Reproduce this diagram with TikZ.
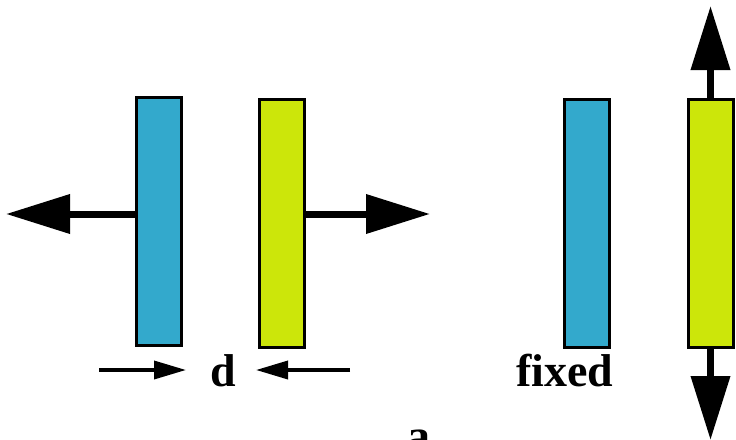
\documentclass[tikz,border=0pt]{standalone}
\usepackage{fontspec}
\setmainfont{Liberation Serif}
\usetikzlibrary{arrows.meta}

\definecolor{plateblue}{RGB}{51,169,204}
\definecolor{plategreen}{RGB}{204,230,10}

\tikzset{
  plate/.style={draw=black, line width=3pt, minimum width=45pt, minimum height=248pt, inner sep=0pt},
  bigarrow/.style={line width=7pt, -{Triangle[length=64pt, width=38pt]}},
  smallarrow/.style={line width=3.6pt, -{Triangle[length=32pt, width=18pt]}},
  lbl/.style={font=\fontsize{46}{50}\selectfont\bfseries, inner sep=0pt, anchor=base}
}

\begin{document}
\begin{tikzpicture}[x=1pt, y=-1pt]
  \useasboundingbox (0,0) rectangle (736,439);

  %%%%% plates %%%%%
  \node[plate, fill=plateblue]  (blueL)  at (158.5,221.5) {};
  \node[plate, fill=plategreen] (greenL) at (282,223) {};
  \node[plate, fill=plateblue]  (blueR)  at (586.5,223) {};
  \node[plate, fill=plategreen] (greenR) at (710.5,223) {};

  %%%%% pulling apart %%%%%
  \coordinate (tipW) at (6,214);
  \coordinate (tipE) at (430,214);
  \draw[bigarrow] (blueL.west |- tipW) -- (tipW);
  \draw[bigarrow] (greenL.east |- tipE) -- (tipE);

  %%%%% sliding %%%%%
  \coordinate (tipN) at (710.5,6);
  \coordinate (tipS) at (710.5,440);
  \draw[bigarrow] (greenR.north) -- (tipN);
  \draw[bigarrow] (greenR.south) -- (tipS);

  %%%%% gap %%%%%
  \node[lbl] (gap) at (223,386) {d};
  \coordinate (gapA) at (99,370);
  \coordinate (gapB) at (186,370);
  \coordinate (gapC) at (350,370);
  \coordinate (gapD) at (256,370);
  \draw[smallarrow] (gapA) -- (gapB);
  \draw[smallarrow] (gapC) -- (gapD);

  \node[lbl] (fixed) at (565,386) {fixed};
  \node[lbl] (caption) at (419,451) {a};
\end{tikzpicture}
\end{document}
